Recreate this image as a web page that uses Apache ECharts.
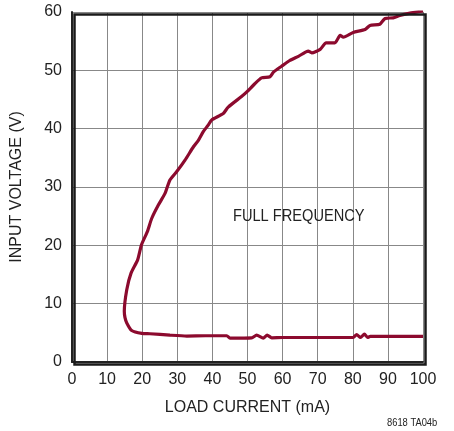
<!DOCTYPE html>
<html>
<head>
<meta charset="utf-8">
<script src="https://cdn.jsdelivr.net/npm/echarts@6/dist/echarts.min.js"></script>
<style>
  html, body { margin: 0; padding: 0; background: #fff; }
  #chart { width: 454px; height: 431px; }
</style>
</head>
<body>
<div id="chart"></div>
<script>
// load current (mA) / input voltage (V), lower branch from right to left, then up the upper branch
const lowerX = [100, 95, 90, 85, 84.2, 83.3, 82.2, 81.1, 80.1, 70, 60, 56.9, 55.6, 54.5, 52.6, 51.2, 45, 44.1, 38, 32.7, 27.9, 22.2, 19.9, 17, 15.6, 15.1, 14.9]
const lowerY = [4.4, 4.4, 4.4, 4.4, 4.2, 4.8, 4.2, 4.7, 4.2, 4.2, 4.2, 4.15, 4.6, 4.1, 4.6, 4.15, 4.1, 4.5, 4.5, 4.45, 4.6, 4.84, 4.9, 5.4, 6.7, 7.6, 8.7]
const upperX = [15.6, 16.8, 18.7, 19.8, 21.5, 22.7, 24.6, 26.5, 27.9, 29.8, 32.2, 34.6, 36, 37.4, 38.8, 39.8, 43.1, 44.5, 48.3, 49.8, 52.1, 54, 56.4, 57.4, 59.7, 62.1, 64.5, 67.3, 68.3, 70.7, 72.4, 74.9, 76.4, 77.3, 80.1, 83.5, 84.9, 87.7, 89.2, 91.5, 93.4, 96.3, 100]
const upperY = [12.4, 15.2, 17.5, 20.1, 22.4, 24.6, 26.9, 28.9, 31.2, 32.6, 34.6, 36.9, 38, 39.5, 40.6, 41.5, 42.6, 43.7, 45.5, 46.3, 47.7, 48.7, 48.9, 49.7, 50.7, 51.7, 52.4, 53.3, 53, 53.6, 54.7, 54.7, 56, 55.7, 56.5, 57, 57.7, 57.9, 58.9, 59, 59.4, 59.8, 60.2]

const curve = lowerX.map((x, i) => [x, lowerY[i]]).concat(upperX.map((x, i) => [x, upperY[i]]))

const font = '"Liberation Sans Narrow", "Liberation Sans", Arial, sans-serif'
const chart = echarts.init(document.getElementById('chart'))
chart.setOption({
  backgroundColor: '#fff',
  animation: false,
  grid: { left: 72, right: 31, top: 12, bottom: 69 },
  xAxis: {
    type: 'value',
    min: 0,
    max: 100,
    interval: 10,
    name: 'LOAD CURRENT (mA)',
    nameLocation: 'middle',
    nameGap: 38,
    nameTextStyle: { color: '#222', fontSize: 16, fontFamily: font },
    axisLine: { show: true, lineStyle: { color: '#222', width: 2 } },
    axisTick: { show: false },
    axisLabel: { color: '#222', fontSize: 16, fontFamily: font, margin: 10 },
    splitLine: { show: true, lineStyle: { color: '#888', width: 1 } }
  },
  yAxis: {
    type: 'value',
    min: 0,
    max: 60,
    interval: 10,
    name: 'INPUT VOLTAGE (V)',
    nameLocation: 'middle',
    nameGap: 47,
    nameTextStyle: { color: '#222', fontSize: 16, fontFamily: font },
    axisLine: { show: true, lineStyle: { color: '#222', width: 2 } },
    axisTick: { show: false },
    axisLabel: { color: '#222', fontSize: 16, fontFamily: font, margin: 10 },
    splitLine: { show: true, lineStyle: { color: '#888', width: 1 } }
  },
  graphic: [
    { type: 'rect', left: 72, top: 12, shape: { width: 351, height: 350 }, style: { fill: 'none', stroke: '#1a1a1a', lineWidth: 2.5 }, z: 10, silent: true },
    { type: 'text', x: 233, y: 208, scaleX: 0.86, style: { text: 'FULL FREQUENCY', fill: '#222', font: '17px ' + font }, z: 10 },
    { type: 'text', x: 387, y: 417, scaleX: 0.85, style: { text: '8618 TA04b', fill: '#222', font: '11px ' + font }, z: 10 }
  ],
  series: [{
    type: 'line',
    data: curve,
    showSymbol: false,
    smooth: 0.2,
    clip: true,
    lineStyle: { color: '#8c0a2e', width: 3.2 },
    z: 5
  }]
})
</script>
</body>
</html>
